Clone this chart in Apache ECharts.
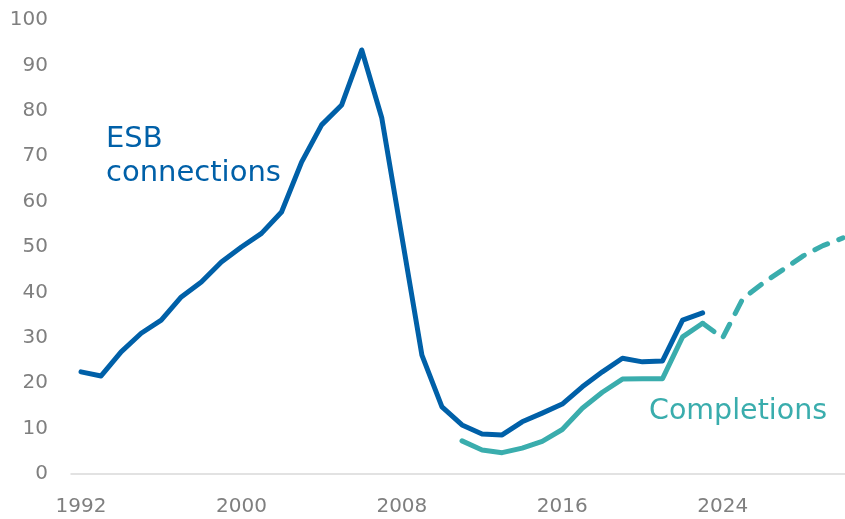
<!DOCTYPE html>
<html>
<head>
<meta charset="utf-8">
<script src="https://cdn.jsdelivr.net/npm/echarts@6/dist/echarts.min.js"></script>
<style>
  html, body { margin: 0; padding: 0; background: #fff; }
  #chart { width: 845px; height: 519px; }
</style>
</head>
<body>
<div id="chart"></div>
<script>
// values
var esbYears = [1992, 1993, 1994, 1995, 1996, 1997, 1998, 1999, 2000, 2001, 2002, 2003, 2004, 2005, 2006, 2007,
                2008, 2009, 2010, 2011, 2012, 2013, 2014, 2015, 2016, 2017, 2018, 2019, 2020, 2021, 2022, 2023];
var esbValues = [22.5, 21.6, 26.9, 31, 33.9, 39, 42.3, 46.7, 50, 53, 57.7, 68.7, 76.9, 81.3, 93.4, 78.4,
                 52.3, 26.2, 14.8, 10.8, 8.8, 8.6, 11.5, 13.4, 15.4, 19.2, 22.5, 25.5, 24.7, 24.9, 33.9, 35.5];

var complYears = [2011, 2012, 2013, 2014, 2015, 2016, 2017, 2018, 2019, 2020, 2021, 2022, 2023];
var complValues = [7.3, 5.3, 4.7, 5.7, 7.2, 9.8, 14.5, 18, 20.9, 21, 21, 30.2, 33.2];

var forecastYears = [2023, 2024, 2025, 2026, 2027, 2028, 2029, 2030];
var forecastValues = [33.2, 30, 38.6, 42, 45, 48, 50.3, 52];

var xTickLabels = [1992, 2000, 2008, 2016, 2024];

function pairs(xs, ys) {
    var out = [];
    for (var i = 0; i < xs.length; i++) out.push([xs[i], ys[i]]);
    return out;
}

var blue = '#0060a8';
var teal = '#3aadad';
var grey = '#7f7f7f';
var font = 'DejaVu Sans';

var chart = echarts.init(document.getElementById('chart'));

var option = {
    animation: false,
    grid: { left: 71, right: 0, top: 20, bottom: 45 },
    xAxis: {
        type: 'value',
        min: 1991.5,
        max: 2030.1,
        splitLine: { show: false },
        axisLine: { show: true, lineStyle: { color: '#d9d9d9', width: 1.5 } },
        axisTick: { show: false },
        axisLabel: {
            customValues: xTickLabels,
            color: grey,
            fontSize: 20,
            fontFamily: font,
            margin: 23,
            formatter: function (v) { return String(v); }
        }
    },
    yAxis: {
        type: 'value',
        min: 0,
        max: 100,
        interval: 10,
        splitLine: { show: false },
        axisLine: { show: false },
        axisTick: { show: false },
        axisLabel: { color: grey, fontSize: 20, fontFamily: font, margin: 23 }
    },
    graphic: [
        { type: 'text', left: 106, top: 125, style: { text: 'ESB', fill: blue, font: '29px "DejaVu Sans"' } },
        { type: 'text', left: 106, top: 159, style: { text: 'connections', fill: blue, font: '29px "DejaVu Sans"' } },
        { type: 'text', left: 649, top: 397, style: { text: 'Completions', fill: teal, font: '28.5px "DejaVu Sans"' } }
    ],
    series: [
        {
            name: 'ESB connections',
            type: 'line',
            data: pairs(esbYears, esbValues),
            showSymbol: false,
            lineStyle: { color: blue, width: 5, cap: 'round', join: 'round' }
        },
        {
            name: 'Completions',
            type: 'line',
            data: pairs(complYears, complValues),
            showSymbol: false,
            lineStyle: { color: teal, width: 5, cap: 'round', join: 'round' }
        },
        {
            name: 'Completions forecast',
            type: 'line',
            data: pairs(forecastYears, forecastValues),
            showSymbol: false,
            lineStyle: { color: teal, width: 5, type: [14, 12], cap: 'round', join: 'round' }
        }
    ]
};
chart.setOption(option);
</script>
</body>
</html>
